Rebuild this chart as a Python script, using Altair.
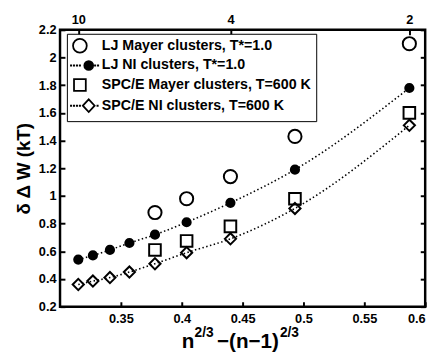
import altair as alt
import pandas as pd

# ---- data ----
series_names = ["LJ Mayer clusters, T*=1.0",
                "LJ NI clusters, T*=1.0",
                "SPC/E Mayer clusters, T=600 K",
                "SPC/E NI clusters, T=600 K"]

x_lj_mayer = [0.378, 0.404, 0.440, 0.493, 0.587]
y_lj_mayer = [0.88, 0.98, 1.14, 1.43, 2.10]

x_lj_ni = [0.315, 0.327, 0.341, 0.357, 0.378, 0.404, 0.440, 0.493, 0.587]
y_lj_ni = [0.54, 0.57, 0.61, 0.66, 0.72, 0.81, 0.95, 1.19, 1.78]

x_spce_mayer = [0.378, 0.404, 0.440, 0.493, 0.587]
y_spce_mayer = [0.61, 0.675, 0.78, 0.98, 1.60]

x_spce_ni = [0.315, 0.327, 0.341, 0.357, 0.378, 0.404, 0.440, 0.493, 0.587]
y_spce_ni = [0.36, 0.385, 0.41, 0.45, 0.51, 0.59, 0.69, 0.91, 1.51]

x_ticks = [0.35, 0.4, 0.45, 0.5, 0.55, 0.6]
y_ticks = [0.2, 0.4, 0.6, 0.8, 1.0, 1.2, 1.4, 1.6, 1.8, 2.0, 2.2]
top_n_labels = ["10", "4", "2"]
top_n_pos = [0.315, 0.440, 0.587]

rows = []
for name, xs, ys in [(series_names[0], x_lj_mayer, y_lj_mayer),
                     (series_names[1], x_lj_ni, y_lj_ni),
                     (series_names[2], x_spce_mayer, y_spce_mayer),
                     (series_names[3], x_spce_ni, y_spce_ni)]:
    for xv, yv in zip(xs, ys):
        rows.append({"series": name, "x": xv, "y": yv})
df = pd.DataFrame(rows)
df_ni = df[df["series"].isin([series_names[1], series_names[3]])]

FONT = "Liberation Sans"
W, H = 372, 282
xdom = alt.Scale(domain=[0.3, 0.6], nice=False, zero=False)
ydom = alt.Scale(domain=[0.2, 2.2], nice=False, zero=False)

base = alt.Chart(df)

top_expr = " : ".join(
    [f"abs(datum.value - {p}) < 0.005 ? '{l}'" for p, l in zip(top_n_pos, top_n_labels)]
) + " : ''"

fill_range = ["transparent", "black", "transparent", "transparent"]

points = base.mark_point(opacity=1, strokeWidth=2, stroke="black").encode(
    x=alt.X("x:Q", scale=xdom,
            axis=alt.Axis(orient="bottom", values=x_ticks, format="~g", title=None,
                          domain=False, ticks=False, labelPadding=6,
                          labelFont=FONT, labelFontWeight="bold", labelFontSize=13,
                          labelColor="black", grid=False)),
    y=alt.Y("y:Q", scale=ydom,
            axis=alt.Axis(orient="left", values=y_ticks, format="~g",
                          title="δ Δ W (kT)", titleX=-37, titleY=H / 2,
                          titleBaseline="middle", titleAngle=-90,
                          titleFont=FONT, titleFontWeight="bold", titleFontSize=19,
                          titleColor="black",
                          domain=False, ticks=False, labelPadding=4,
                          labelFont=FONT, labelFontWeight="bold", labelFontSize=13,
                          labelColor="black", grid=False)),
    shape=alt.Shape("series:N", scale=alt.Scale(domain=series_names,
                                                range=["circle", "circle", "square", "diamond"]),
                    legend=None),
    fill=alt.Fill("series:N", scale=alt.Scale(domain=series_names, range=fill_range),
                  legend=None),
    size=alt.Size("series:N", scale=alt.Scale(type="ordinal", domain=series_names,
                                              range=[180, 70, 140, 130]),
                  legend=None),
)

# ---- legend: symbols drawn as paths (unit = 5 px), with dotted line for NI entries ----
def dots(xs):
    return "".join(f"M{x - 0.03:.2f},-0.03h0.06v0.06h-0.06Z" for x in xs)

def circle(cx, r):
    return (f"M{cx + r:.2f},0A{r},{r},0,1,1,{cx - r:.2f},0"
            f"A{r},{r},0,1,1,{cx + r:.2f},0Z")

left_dots = [-1.6, -1.0, -0.4, 0.2]
legend_paths = [
    circle(0.2, 1.4),
    dots(left_dots) + circle(2.0, 0.9) + dots([3.3, 3.9]),
    "M-1,-1.2H1.4V1.2H-1Z",
    dots(left_dots) + "M0.8,0L2,-1.3L3.2,0L2,1.3Z" + dots([3.8]),
]

leg_pos = dict(title=None, orient="none", legendX=7, legendY=4)
legend_layer = base.transform_filter("false").mark_point(
    opacity=1, strokeWidth=1.8, stroke="black").encode(
    x=alt.X("x:Q", scale=xdom, axis=None),
    y=alt.Y("y:Q", scale=ydom, axis=None),
    shape=alt.Shape("series:N", scale=alt.Scale(domain=series_names, range=legend_paths),
                    legend=alt.Legend(labelFont=FONT, labelFontWeight="bold", labelFontSize=14.5,
                                      labelColor="black", strokeColor="black", fillColor="white",
                                      padding=5, rowPadding=1, labelOffset=16, symbolOffset=0,
                                      symbolSize=100, symbolStrokeColor="black",
                                      symbolStrokeWidth=1.8, symbolOpacity=1,
                                      labelLimit=400, **leg_pos)),
    fill=alt.Fill("series:N", scale=alt.Scale(domain=series_names, range=fill_range),
                  legend=alt.Legend(**leg_pos)),
    stroke=alt.Stroke("series:N", scale=alt.Scale(domain=series_names,
                                                  range=["black", "black", "black", "black"]),
                      legend=alt.Legend(**leg_pos)),
)

lines = alt.Chart(df_ni).mark_line(color="black", strokeWidth=1.6, strokeDash=[1.5, 2.5],
                                   interpolate="monotone").encode(
    x=alt.X("x:Q", scale=xdom, axis=None),
    y=alt.Y("y:Q", scale=ydom, axis=None),
    detail="series:N",
)

def axis_layer(xaxis, yaxis):
    return base.mark_point(opacity=0).encode(
        x=alt.X("x:Q", scale=xdom, axis=xaxis),
        y=alt.Y("y:Q", scale=ydom, axis=yaxis),
    )

tick_style = dict(labels=False, domain=False, grid=False, title=None,
                  tickColor="black", tickWidth=2, tickSize=5)

top_axis = axis_layer(
    alt.Axis(orient="top", values=top_n_pos, labelExpr=top_expr, title=None,
             domain=False, ticks=False, labelPadding=3, grid=False,
             labelFont=FONT, labelFontWeight="bold", labelFontSize=13, labelColor="black"),
    None)
bottom_in = axis_layer(alt.Axis(orient="top", offset=-H, values=x_ticks, **tick_style), None)
top_in = axis_layer(alt.Axis(orient="bottom", offset=-H, values=top_n_pos, **tick_style), None)
left_in = axis_layer(None, alt.Axis(orient="right", offset=-W, values=y_ticks, **tick_style))
right_in = axis_layer(None, alt.Axis(orient="left", offset=-W, values=y_ticks, **tick_style))

# x-axis title n^{2/3}-(n-1)^{2/3} built from pieces
title_pieces = [("n", 124, 324, 21), ("2/3", 137, 313, 14),
                ("−(n−1)", 160, 324, 21), ("2/3", 224, 313, 14)]
title_layers = [
    alt.Chart(pd.DataFrame({"t": [t]})).mark_text(
        font=FONT, fontWeight="bold", fontSize=fs, align="left", baseline="alphabetic",
        color="black").encode(text="t:N", x=alt.value(px), y=alt.value(py))
    for t, px, py, fs in title_pieces
]

chart = alt.layer(lines, points, legend_layer, top_axis, bottom_in, top_in, left_in, right_in,
                  *title_layers).resolve_axis(
    x="independent", y="independent"
).resolve_scale(
    shape="independent", fill="independent", stroke="independent"
).properties(
    width=W, height=H,
    autosize=alt.AutoSizeParams(type="none"),
    padding={"left": 53, "top": 19, "right": 10, "bottom": 47},
    background="white",
).configure_view(stroke="black", strokeWidth=2.5)

chart.save("out.html", embed_options={"renderer": "svg", "actions": False})
